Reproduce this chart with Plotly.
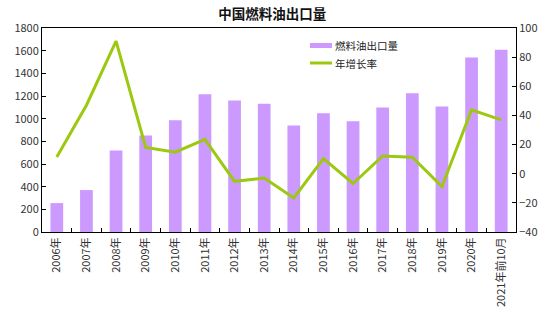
import plotly.graph_objects as go

# 中国燃料油出口量（万吨）与年增长率（%）
years = ["2006年", "2007年", "2008年", "2009年", "2010年", "2011年", "2012年", "2013年",
         "2014年", "2015年", "2016年", "2017年", "2018年", "2019年", "2020年", "2021年前10月"]
export_volume = [255, 370, 720, 852, 985, 1215, 1160, 1132,
                 940, 1047, 978, 1099, 1224, 1107, 1540, 1608]
growth_rate = [11.5, 47, 91, 18, 14.8, 23.6, -5.2, -3,
               -16.6, 10.4, -6.7, 12.2, 11.3, -8.9, 43.8, 37]

FONT = "Noto Sans CJK SC"
BAR_COLOR = "#CC99FF"
LINE_COLOR = "#9CC80F"

fig = go.Figure()
fig.add_trace(go.Bar(
    x=years, y=export_volume, name="燃料油出口量",
    marker=dict(color=BAR_COLOR, line=dict(width=0)),
    yaxis="y", showlegend=False,
))
fig.add_trace(go.Scatter(
    x=years, y=growth_rate, name="年增长率", mode="lines",
    line=dict(color=LINE_COLOR, width=3),
    yaxis="y2", showlegend=False,
))

tick_font = dict(family=FONT, size=11, color="#333")

fig.update_layout(
    width=550, height=327,
    margin=dict(l=42, r=34, t=28, b=95),
    paper_bgcolor="white", plot_bgcolor="white",
    bargap=0.57,
    title=dict(text="<b>中国燃料油出口量</b>", x=0.495, xanchor="center",
               y=0.957, yanchor="middle",
               font=dict(family=FONT, size=13.5, color="#111")),
    xaxis=dict(
        type="category", tickangle=-90, tickfont=tick_font,
        showline=True, linecolor="black", linewidth=1, mirror=True,
        ticks="inside", ticklen=4, tickcolor="black", tickson="boundaries",
        showgrid=False,
    ),
    yaxis=dict(
        range=[0, 1800], dtick=200, tickfont=tick_font,
        showline=True, linecolor="black", linewidth=1,
        ticks="inside", ticklen=4, tickcolor="black",
        showgrid=False, zeroline=False,
    ),
    yaxis2=dict(
        range=[-40, 100], dtick=20, tickfont=tick_font,
        overlaying="y", side="right",
        showline=True, linecolor="black", linewidth=1,
        ticks="inside", ticklen=4, tickcolor="black",
        showgrid=False, zeroline=False,
    ),
    showlegend=False,
)

# Legend drawn in paper coordinates
def px_x(v):
    return (v - 42) / (550 - 42 - 34)

def px_y(v):
    return 1 - (v - 28) / (327 - 28 - 95)

fig.add_shape(type="rect", xref="paper", yref="paper",
              x0=px_x(310), x1=px_x(332), y0=px_y(48), y1=px_y(43),
              fillcolor=BAR_COLOR, line=dict(width=0))
fig.add_shape(type="line", xref="paper", yref="paper",
              x0=px_x(310), x1=px_x(332), y0=px_y(63), y1=px_y(63),
              line=dict(color=LINE_COLOR, width=3))
for label, yy in [("燃料油出口量", 45.5), ("年增长率", 63)]:
    fig.add_annotation(text=label, xref="paper", yref="paper",
                       x=px_x(333), y=px_y(yy), xanchor="left", yanchor="middle",
                       showarrow=False, font=dict(family=FONT, size=10.5, color="#222"))

fig.write_html("out.html")
